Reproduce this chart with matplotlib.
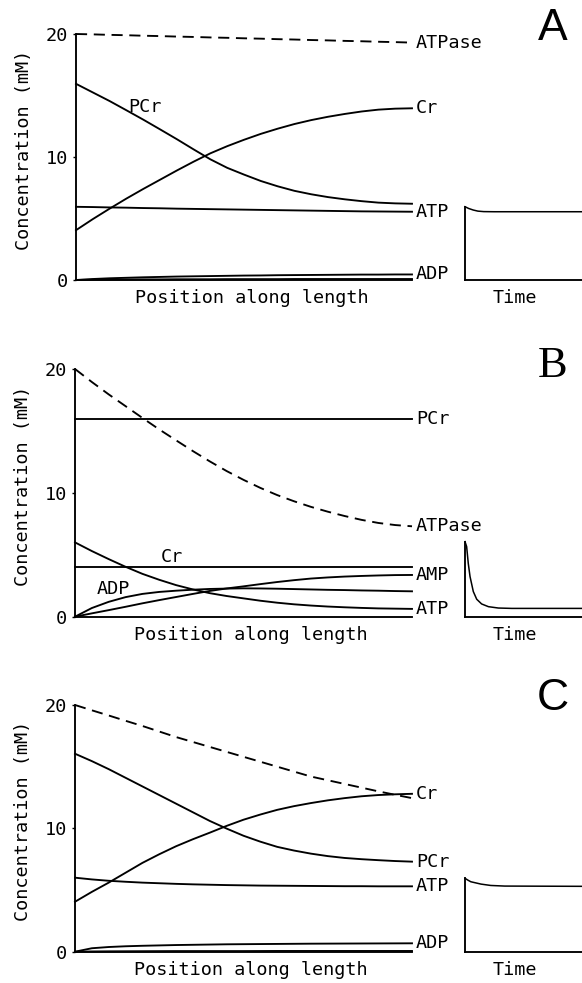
import matplotlib
matplotlib.use('Agg')
import matplotlib.pyplot as plt

plt.rcParams['font.family'] = ['DejaVu Sans Mono', 'DejaVu Sans']
plt.rcParams['lines.scale_dashes'] = False

# ---------------- data ----------------
pos = [0.0, 0.05, 0.1, 0.15, 0.2, 0.25, 0.3, 0.35, 0.4, 0.45, 0.5,
       0.55, 0.6, 0.65, 0.7, 0.75, 0.8, 0.85, 0.9, 0.95, 1.0]

# Panel A
a_atpase = [20.0, 19.97, 19.93, 19.9, 19.86, 19.83, 19.79, 19.76, 19.72, 19.69, 19.65,
            19.62, 19.58, 19.55, 19.51, 19.48, 19.44, 19.41, 19.37, 19.34, 19.3]
a_pcr = [15.95, 15.25, 14.55, 13.8, 13.04, 12.25, 11.45, 10.62, 9.81, 9.12, 8.57,
         8.05, 7.62, 7.25, 6.97, 6.74, 6.56, 6.41, 6.29, 6.23, 6.2]
a_cr = [4.05, 4.95, 5.8, 6.62, 7.4, 8.15, 8.9, 9.62, 10.3, 10.88, 11.4,
        11.88, 12.3, 12.68, 13.0, 13.27, 13.5, 13.7, 13.85, 13.93, 13.96]
a_atp = [5.95, 5.93, 5.9, 5.88, 5.85, 5.83, 5.8, 5.78, 5.76, 5.74, 5.72,
         5.7, 5.68, 5.66, 5.64, 5.62, 5.6, 5.58, 5.57, 5.56, 5.55]
a_adp = [0.0, 0.08, 0.14, 0.18, 0.22, 0.25, 0.28, 0.3, 0.32, 0.34, 0.36,
         0.37, 0.39, 0.4, 0.41, 0.42, 0.43, 0.44, 0.44, 0.45, 0.45]
a_amp = [0.0, 0.02, 0.03, 0.04, 0.05, 0.05, 0.06, 0.06, 0.06, 0.07, 0.07,
         0.07, 0.07, 0.08, 0.08, 0.08, 0.08, 0.08, 0.08, 0.08, 0.08]
a_time = [0.0, 0.03, 0.07, 0.11, 0.16, 0.25, 1.0]
a_atp_time = [5.96, 5.82, 5.69, 5.6, 5.56, 5.55, 5.55]

# Panel B
b_atpase = [20.0, 18.95, 17.95, 17.0, 16.05, 15.12, 14.24, 13.37, 12.54, 11.76, 11.05,
            10.4, 9.82, 9.32, 8.87, 8.48, 8.13, 7.82, 7.57, 7.4, 7.3]
b_pcr = [16.0] * 21
b_cr = [4.0] * 21
b_atp = [6.0, 5.3, 4.65, 4.03, 3.46, 2.98, 2.55, 2.2, 1.9, 1.67, 1.48,
         1.29, 1.13, 1.0, 0.9, 0.82, 0.76, 0.71, 0.67, 0.65, 0.63]
b_adp = [0.0, 0.7, 1.2, 1.58, 1.84, 2.0, 2.1, 2.18, 2.24, 2.27, 2.29,
         2.28, 2.26, 2.23, 2.2, 2.17, 2.15, 2.12, 2.1, 2.07, 2.05]
b_amp = [0.0, 0.27, 0.53, 0.8, 1.08, 1.34, 1.59, 1.84, 2.08, 2.28, 2.45,
         2.63, 2.8, 2.95, 3.08, 3.17, 3.24, 3.29, 3.33, 3.36, 3.37]
b_time = [0.0, 0.014, 0.028, 0.043, 0.071, 0.1, 0.142, 0.2, 0.285, 0.4, 1.0]
b_atp_time = [6.06, 5.66, 4.3, 3.24, 2.03, 1.41, 1.03, 0.81, 0.7, 0.67, 0.67]

# Panel C
c_atpase = [20.0, 19.57, 19.15, 18.72, 18.3, 17.85, 17.4, 17.0, 16.6, 16.2, 15.8,
            15.4, 15.0, 14.6, 14.2, 13.9, 13.6, 13.3, 13.0, 12.72, 12.45]
c_pcr = [16.05, 15.45, 14.8, 14.1, 13.4, 12.7, 12.0, 11.3, 10.6, 9.98, 9.4,
         8.92, 8.5, 8.2, 7.95, 7.75, 7.6, 7.5, 7.42, 7.35, 7.3]
c_cr = [4.05, 4.85, 5.6, 6.4, 7.2, 7.9, 8.55, 9.12, 9.65, 10.2, 10.7,
        11.12, 11.5, 11.8, 12.05, 12.27, 12.45, 12.6, 12.7, 12.76, 12.8]
c_atp = [6.0, 5.86, 5.75, 5.67, 5.6, 5.55, 5.5, 5.46, 5.43, 5.4, 5.38,
         5.36, 5.35, 5.34, 5.33, 5.32, 5.31, 5.31, 5.3, 5.3, 5.3]
c_adp = [0.0, 0.28, 0.38, 0.44, 0.48, 0.51, 0.54, 0.56, 0.58, 0.6, 0.61,
         0.62, 0.63, 0.64, 0.65, 0.655, 0.66, 0.665, 0.67, 0.675, 0.68]
c_amp = [0.0, 0.02, 0.03, 0.035, 0.04, 0.045, 0.05, 0.05, 0.05, 0.05, 0.05,
         0.055, 0.06, 0.06, 0.06, 0.06, 0.06, 0.06, 0.06, 0.06, 0.06]
c_time = [0.0, 0.025, 0.05, 0.137, 0.22, 0.34, 1.0]
c_atp_time = [5.95, 5.8, 5.67, 5.48, 5.37, 5.32, 5.3]

yticks = [0, 10, 20]

# ---------------- layout ----------------
W, H = 582, 983
fig = plt.figure(figsize=(W / 100, H / 100), dpi=100)

def px_axes(x0, y_top, x1, y_bot, z=0):
    return fig.add_axes([x0 / W, 1 - y_bot / H, (x1 - x0) / W, (y_bot - y_top) / H], zorder=z)

FS = 13.3
LW = 1.35
DASH = (8, 4.8)

def main_panel(rect, solid, dashed, right_labels, inline_labels):
    ax = px_axes(*rect, z=2)
    ax.patch.set_visible(False)
    ax.set_xlim(0, 1)
    ax.set_ylim(0, 20)
    for s in ('top', 'right'):
        ax.spines[s].set_visible(False)
    for s in ('left', 'bottom'):
        ax.spines[s].set_linewidth(LW)
    ax.set_xticks([])
    ax.set_yticks(yticks)
    ax.set_yticklabels([str(v) for v in yticks])
    ax.tick_params(axis='y', length=2.2, width=1, pad=3.4, labelsize=FS)
    for vals in solid:
        ax.plot(pos, vals, color='k', lw=LW, clip_on=False)
    ax.plot(pos, dashed, color='k', lw=LW, dashes=DASH, clip_on=False)
    for text, val in right_labels:
        ax.annotate(text, xy=(1, val), xytext=(4, 0), textcoords='offset pixels',
                    va='center', ha='left', fontsize=FS, annotation_clip=False)
    for text, x, y in inline_labels:
        ax.text(x, y, text, ha='center', va='center', fontsize=FS)
    ax.annotate('Position along length', xy=(0.522, 0), xycoords='axes fraction',
                xytext=(0, -18), textcoords='offset pixels', ha='center', va='center',
                fontsize=FS)
    ax.set_ylabel('Concentration (mM)', fontsize=FS)
    ax.yaxis.set_label_coords(-0.128, 0.53)
    return ax

def time_panel(rect, t, vals):
    ax = px_axes(*rect, z=1)
    ax.patch.set_visible(False)
    ax.set_xlim(0, 1)
    ax.set_ylim(0, 20)
    for s in ('top', 'right'):
        ax.spines[s].set_visible(False)
    ax.spines['bottom'].set_linewidth(LW)
    ax.spines['left'].set_linewidth(LW)
    ax.spines['left'].set_bounds(0, vals[0])
    ax.set_xticks([])
    ax.set_yticks([])
    ax.plot(t, vals, color='k', lw=1.1, clip_on=False)
    ax.annotate('Time', xy=(0.427, 0), xycoords='axes fraction',
                xytext=(0, -18), textcoords='offset pixels', ha='center', va='center',
                fontsize=FS)
    return ax

# Panel A
main_panel((76, 34, 412, 280), [a_pcr, a_cr, a_atp, a_adp, a_amp], a_atpase,
           [('ATPase', a_atpase[-1]), ('Cr', a_cr[-1]), ('ATP', a_atp[-1]), ('ADP', a_adp[-1])],
           [('PCr', 0.205, 14.1)])
time_panel((465, 34, 582, 280), a_time, a_atp_time)

# Panel B
main_panel((75, 369, 412, 616.7), [b_pcr, b_cr, b_atp, b_adp, b_amp], b_atpase,
           [('PCr', b_pcr[-1]), ('ATPase', b_atpase[-1]), ('AMP', b_amp[-1]), ('ATP', b_atp[-1])],
           [('Cr', 0.287, 4.85), ('ADP', 0.114, 2.2)])
time_panel((465, 369, 582, 616.7), b_time, b_atp_time)

# Panel C
main_panel((75, 705, 412, 951.7), [c_pcr, c_cr, c_atp, c_adp, c_amp], c_atpase,
           [('Cr', c_cr[-1]), ('PCr', c_pcr[-1]), ('ATP', c_atp[-1]), ('ADP', c_adp[-1])],
           [])
time_panel((465, 705, 582, 951.7), c_time, c_atp_time)

# Panel letters
fig.text(553 / W, 1 - 28 / H, 'A', ha='center', va='center', fontsize=32,
         family=['Liberation Sans', 'DejaVu Sans'])
fig.text(553 / W, 1 - 366 / H, 'B', ha='center', va='center', fontsize=32,
         family=['Liberation Serif', 'DejaVu Serif'])
fig.text(553 / W, 1 - 699 / H, 'C', ha='center', va='center', fontsize=32,
         family=['Liberation Sans', 'DejaVu Sans'])

fig.savefig('out.png', dpi=100, facecolor='white')
